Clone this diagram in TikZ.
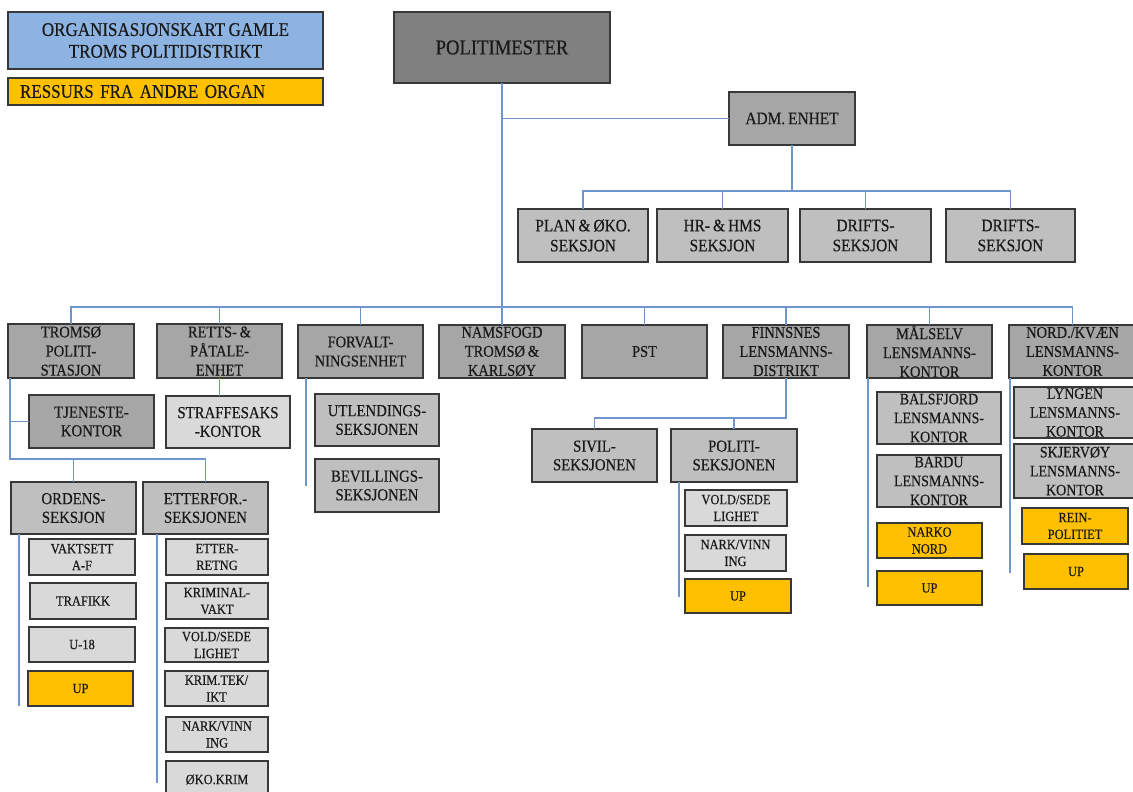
\documentclass[tikz,border=0pt]{standalone}
\usepackage{fontspec}
\setmainfont{Liberation Serif}[FakeStretch=0.88,FakeBold=0.4,WordSpace=0.8]
\definecolor{lnblue}{HTML}{6E96CC}
\definecolor{titleblue}{HTML}{8DB3E2}
\definecolor{resgold}{HTML}{FFC000}
\definecolor{gdark}{HTML}{808080}
\definecolor{gmid}{HTML}{A6A6A6}
\definecolor{glight}{HTML}{BFBFBF}
\definecolor{gpale}{HTML}{D9D9D9}
\tikzset{
  bx/.style={draw=black!78, line width=0.8pt, align=center, inner sep=0pt, outer sep=0pt, text=black!90},
  fT/.style={font=\fontsize{14.5}{16.3}\selectfont},
  fP/.style={font=\fontsize{15.9}{17}\selectfont},
  fA/.style={font=\fontsize{13.1}{15}\selectfont},
  fR/.style={font=\fontsize{12.3}{14.3}\selectfont},
  fM/.style={font=\fontsize{12.6}{14}\selectfont},
  fL/.style={font=\fontsize{11.9}{14.2}\selectfont},
  fS/.style={font=\fontsize{10.6}{12.6}\selectfont},
  titlebox/.style={bx, fill=titleblue, fT},
  resbox/.style={bx, fill=resgold, fT, align=left, text width=\myw pt - 18pt},
  pmbox/.style={bx, fill=gdark, fP},
  admbox/.style={bx, fill=gmid, fA},
  subadm/.style={bx, fill=glight, fA},
  rowbox/.style={bx, fill=gmid, fR},
  darkmid/.style={bx, fill=gmid, fM},
  midbox/.style={bx, fill=glight, fM},
  palemid/.style={bx, fill=gpale, fM},
  lensbox/.style={bx, fill=glight, fL},
  smallbox/.style={bx, fill=gpale, fS},
  yelbox/.style={bx, fill=resgold, fS},
  conn/.style={draw=lnblue, line width=0.9pt}
}
\newcommand\obox[7]{%
  \pgfmathsetmacro\myw{(#5-#3)*0.75}\pgfmathsetmacro\myh{(#6-#4)*0.75}%
  \node[#2, minimum width=\myw pt, minimum height=\myh pt] (#1) at ({(#3+#5)/2},{(#4+#6)/2}) {#7};}
\begin{document}
\begin{tikzpicture}[x=0.75pt,y=-0.75pt]
\useasboundingbox (0,0) rectangle (1133,792);
\clip (0,0) rectangle (1133,792);
% legend
\obox{title}{titlebox}{8}{12}{323}{69}{ORGANISASJONSKART GAMLE\\TROMS POLITIDISTRIKT}
\obox{res}{resbox}{8}{78}{323}{105}{RESSURS FRA ANDRE ORGAN}
% top
\obox{pm}{pmbox}{394}{12}{610}{83}{POLITIMESTER}
\obox{adm}{admbox}{729}{92}{855}{145}{ADM. ENHET}
\obox{plan}{subadm}{518}{209}{648}{262}{PLAN \& ØKO.\\SEKSJON}
\obox{hr}{subadm}{657}{209}{788}{262}{HR- \& HMS\\SEKSJON}
\obox{dr1}{subadm}{800}{209}{931}{262}{DRIFTS-\\SEKSJON}
\obox{dr2}{subadm}{946}{209}{1075}{262}{DRIFTS-\\SEKSJON}
% row 2
\obox{trom}{rowbox}{8}{324}{134}{378}{TROMSØ\\POLITI-\\STASJON}
\obox{retts}{rowbox}{157}{324}{282}{378}{RETTS- \&\\PÅTALE-\\ENHET}
\obox{forv}{rowbox}{298}{325}{423}{378}{FORVALT-\\NINGSENHET}
\obox{nams}{rowbox}{439}{325}{565}{378}{NAMSFOGD\\TROMSØ \&\\KARLSØY}
\obox{pst}{rowbox}{582}{325}{707}{378}{PST}
\obox{finn}{rowbox}{723}{325}{849}{378}{FINNSNES\\LENSMANNS-\\DISTRIKT}
\obox{mal}{rowbox}{867}{325}{992}{378}{MÅLSELV\\LENSMANNS-\\KONTOR}
\obox{nord}{rowbox}{1009}{325}{1136}{378}{NORD./KVÆN\\LENSMANNS-\\KONTOR}
% Tromsø subtree
\obox{tjen}{darkmid}{29}{395}{154}{448}{TJENESTE-\\KONTOR}
\obox{straff}{palemid}{166}{396}{290}{448}{STRAFFESAKS\\-KONTOR}
\obox{ordens}{midbox}{11}{482}{136}{534}{ORDENS-\\SEKSJON}
\obox{etter}{midbox}{143}{482}{268}{534}{ETTERFOR.-\\SEKSJONEN}
\obox{vakt}{smallbox}{29}{539}{135}{575}{VAKTSETT\\A-F}
\obox{traf}{smallbox}{30}{583}{136}{619}{TRAFIKK}
\obox{u18}{smallbox}{29}{627}{135}{662}{U-18}
\obox{up1}{yelbox}{28}{671}{133}{706}{UP}
\obox{ett}{smallbox}{166}{539}{268}{575}{ETTER-\\RETNG}
\obox{krim}{smallbox}{166}{583}{268}{619}{KRIMINAL-\\VAKT}
\obox{vold1}{smallbox}{165}{628}{268}{662}{VOLD/SEDE\\LIGHET}
\obox{ikt}{smallbox}{165}{671}{268}{706}{KRIM.TEK/\\IKT}
\obox{nark1}{smallbox}{166}{717}{268}{752}{NARK/VINN\\ING}
\obox{oko}{smallbox}{166}{761}{268}{798}{ØKO.KRIM}
% Forvaltning subtree
\obox{utl}{midbox}{315}{394}{439}{446}{UTLENDINGS-\\SEKSJONEN}
\obox{bev}{midbox}{315}{459}{439}{512}{BEVILLINGS-\\SEKSJONEN}
% Finnsnes subtree
\obox{sivil}{midbox}{532}{429}{657}{482}{SIVIL-\\SEKSJONEN}
\obox{politi}{midbox}{671}{429}{797}{482}{POLITI-\\SEKSJONEN}
\obox{vold2}{smallbox}{685}{490}{787}{526}{VOLD/SEDE\\LIGHET}
\obox{nark2}{smallbox}{685}{535}{786}{571}{NARK/VINN\\ING}
\obox{up2}{yelbox}{685}{579}{791}{613}{UP}
% Målselv subtree
\obox{bals}{lensbox}{877}{392}{1001}{444}{BALSFJORD\\LENSMANNS-\\KONTOR}
\obox{bardu}{lensbox}{877}{455}{1001}{507}{BARDU\\LENSMANNS-\\KONTOR}
\obox{narko}{yelbox}{877}{523}{982}{558}{NARKO\\NORD}
\obox{up3}{yelbox}{877}{571}{982}{605}{UP}
% Nord subtree
\obox{lyng}{lensbox}{1014}{387}{1136}{438}{LYNGEN\\LENSMANNS-\\KONTOR}
\obox{skj}{lensbox}{1014}{444}{1136}{498}{SKJERVØY\\LENSMANNS-\\KONTOR}
\obox{rein}{yelbox}{1022}{508}{1128}{544}{REIN-\\POLITIET}
\obox{up4}{yelbox}{1024}{554}{1128}{589}{UP}
% connectors
\coordinate (bus) at (502,307);
\coordinate (abus) at (792,191);
\draw[conn] (pm) -- (nams);
\draw[conn] (pm.south |- adm.west) -- (adm.west);
\draw[conn] (adm.south) -- (abus);
\draw[conn] (plan.north) |- (abus) -| (dr2.north);
\draw[conn] (hr.north) -- (hr.north |- abus);
\draw[conn] (dr1.north) -- (dr1.north |- abus);
\draw[conn] (trom.north) |- (bus) -| (nord.north);
\foreach \n in {retts,forv,pst,finn,mal}{\draw[conn] (\n.north) -- (\n.north |- bus);}
% Tromsø
\coordinate (tl) at (10,378);
\coordinate (tbus) at (10,459);
\draw[conn] (tl) -- (tbus) -| (etter.north);
\draw[conn] (ordens.north) -- (ordens.north |- tbus);
\draw[conn] (tl |- tjen.west) -- (tjen.west);
\draw[conn] (retts.south) -- (retts.south |- straff.north);
\coordinate (oend) at (19,706);
\draw[conn] (ordens.south -| oend) -- (oend);
\coordinate (eend) at (157,783);
\draw[conn] (etter.south -| eend) -- (eend);
% Forvaltning
\coordinate (fend) at (306,486);
\draw[conn] (forv.south -| fend) -- (fend);
% Finnsnes
\coordinate (fbus) at (786,418);
\draw[conn] (finn.south) -- (fbus) -| (sivil.north);
\draw[conn] (politi.north) -- (politi.north |- fbus);
\coordinate (pend) at (679,597);
\draw[conn] (politi.south -| pend) -- (pend);
% Målselv, Nord
\coordinate (mend) at (868,587);
\draw[conn] (mal.south -| mend) -- (mend);
\coordinate (nend) at (1010,573);
\draw[conn] (nord.south -| nend) -- (nend);
\end{tikzpicture}
\end{document}
